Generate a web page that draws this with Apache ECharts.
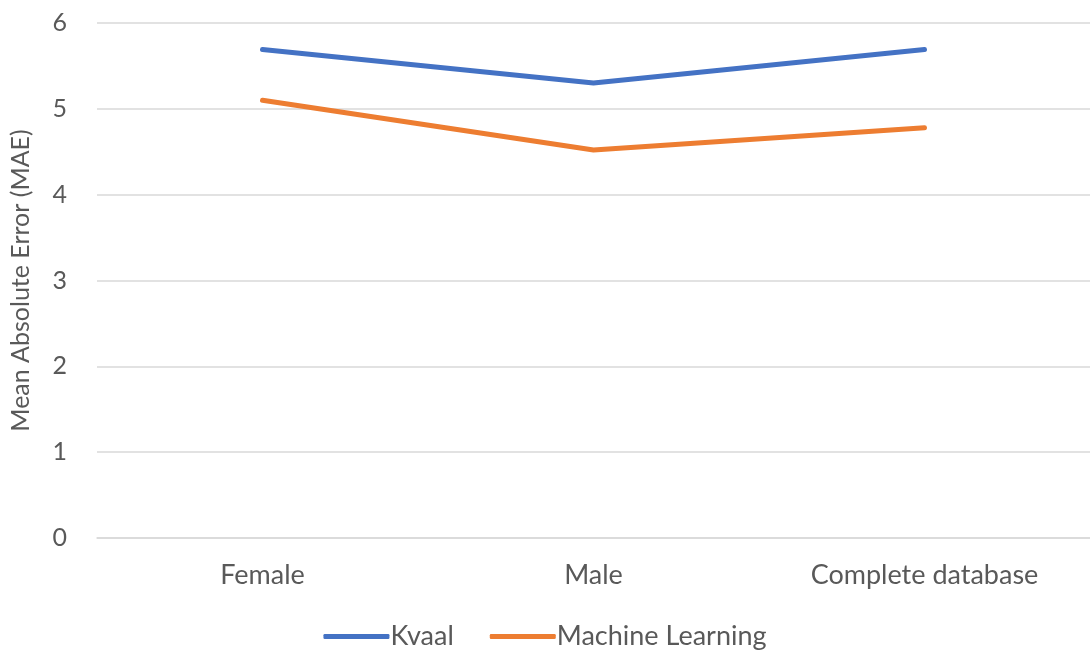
<!DOCTYPE html>
<html>
<head>
<meta charset="utf-8">
<script src="https://cdn.jsdelivr.net/npm/echarts@6/dist/echarts.min.js"></script>
<style>
  html, body { margin: 0; padding: 0; background: #fff; }
  #chart { width: 1090px; height: 657px; }
</style>
</head>
<body>
<div id="chart"></div>
<script>
// Categories and mean absolute error per method
const categories = ['Female', 'Male', 'Complete database'];
const kvaal = [5.69, 5.30, 5.69];
const machineLearning = [5.10, 4.52, 4.78];
const yTicks = { min: 0, max: 6, interval: 1 };

const chart = echarts.init(document.getElementById('chart'), null, { renderer: 'canvas' });
const font = 'Lato, "Open Sans", sans-serif';

chart.setOption({
  backgroundColor: '#ffffff',
  animation: false,
  grid: { left: 91, right: -7, top: 23, bottom: 119, containLabel: false },
  legend: {
    bottom: 2,
    left: 'center',
    itemWidth: 66,
    itemHeight: 5,
    itemGap: 36,
    icon: 'roundRect',
    textStyle: { fontFamily: font, fontSize: 27, color: '#595959', padding: [0, 0, 0, -4] },
    data: ['Kvaal', 'Machine Learning']
  },
  xAxis: {
    type: 'category',
    data: categories,
    boundaryGap: true,
    axisLine: { show: true, lineStyle: { color: '#d9d9d9', width: 1.5 } },
    axisTick: { show: false },
    axisLabel: { fontFamily: font, fontSize: 27, color: '#595959', margin: 24 }
  },
  yAxis: {
    type: 'value',
    min: yTicks.min,
    max: yTicks.max,
    interval: yTicks.interval,
    name: 'Mean Absolute Error (MAE)',
    nameLocation: 'middle',
    nameGap: 64,
    nameRotate: 90,
    nameTextStyle: { fontFamily: font, fontSize: 25, color: '#595959' },
    axisLine: { show: false },
    axisTick: { show: false },
    splitLine: { lineStyle: { color: '#d9d9d9', width: 1.5 } },
    axisLabel: { fontFamily: font, fontSize: 25, color: '#595959', margin: 30 }
  },
  series: [
    {
      name: 'Kvaal',
      type: 'line',
      data: kvaal,
      symbol: 'none',
      lineStyle: { color: '#4472c4', width: 5, cap: 'round', join: 'round' },
      itemStyle: { color: '#4472c4' }
    },
    {
      name: 'Machine Learning',
      type: 'line',
      data: machineLearning,
      symbol: 'none',
      lineStyle: { color: '#ed7d31', width: 5, cap: 'round', join: 'round' },
      itemStyle: { color: '#ed7d31' }
    }
  ]
});
</script>
</body>
</html>
